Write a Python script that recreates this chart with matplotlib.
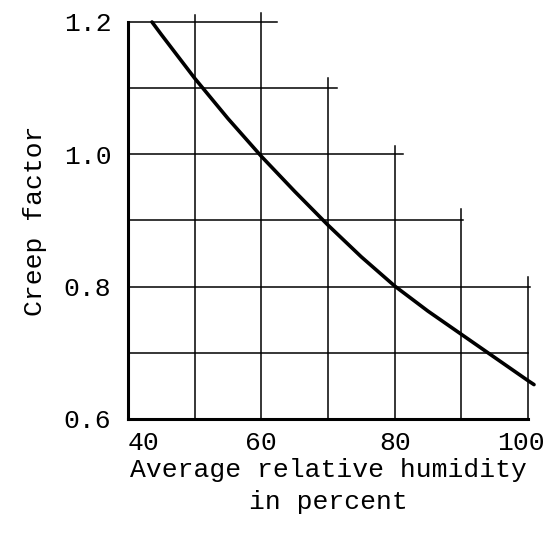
import matplotlib
matplotlib.use("Agg")
import matplotlib.pyplot as plt
from matplotlib.transforms import ScaledTranslation

# Curve data
humidity = [43.6, 45, 50, 55, 60, 65, 70, 75, 80, 85, 90, 95, 100, 100.9]
creep = [1.200, 1.181, 1.115, 1.054, 0.997, 0.944, 0.893, 0.845, 0.801, 0.763, 0.728, 0.693, 0.658, 0.652]

# Staircase grid extents
vgrid_x = [50, 60, 70, 80, 90, 100]
vgrid_top = [1.21, 1.213, 1.115, 1.012, 0.917, 0.815]
hgrid_y = [0.7, 0.8, 0.9, 1.0, 1.1, 1.2]
hgrid_right = [100, 100.3, 90.3, 81.2, 71.4, 62.3]

xticks = [40, 60, 80, 100]
yticks = [0.6, 0.8, 1.0, 1.2]
ytick_labels = ["0.6", "0.8", "1.0", "1.2"]

font = ["Liberation Mono", "DejaVu Sans Mono"]
plt.rcParams['font.family'] = font

fig = plt.figure(figsize=(5.49, 5.41), dpi=100)
ax = fig.add_axes([128/549, 1-419/541, 400/549, 397/541])
ax.set_xlim(40, 100)
ax.set_ylim(0.6, 1.2)

for x, top in zip(vgrid_x, vgrid_top):
    ax.plot([x, x], [0.6, top], color="black", lw=1.1, clip_on=False)
for y, right in zip(hgrid_y, hgrid_right):
    ax.plot([40, right], [y, y], color="black", lw=1.1, clip_on=False)

ax.plot(humidity, creep, color="black", lw=2.6, clip_on=False,
        solid_capstyle="round", solid_joinstyle="round")

for s in ["top", "right"]:
    ax.spines[s].set_visible(False)
for s in ["left", "bottom"]:
    ax.spines[s].set_linewidth(2.2)

ax.set_xticks(xticks)
ax.set_yticks(yticks)
ax.set_yticklabels(ytick_labels)
ax.tick_params(axis="both", length=0, labelsize=19)
ax.tick_params(axis="y", pad=12)
ax.tick_params(axis="x", pad=9)
xl = ax.get_xticklabels()
xl[0].set_horizontalalignment("left")
xl[-1].set_transform(xl[-1].get_transform() + ScaledTranslation(-7/100, 0, fig.dpi_scale_trans))

ax.set_xlabel("Average relative humidity\nin percent", fontsize=19, labelpad=2, linespacing=1.4)
ax.set_ylabel("Creep factor", fontsize=19, labelpad=12)

fig.savefig("out.png", dpi=100)
